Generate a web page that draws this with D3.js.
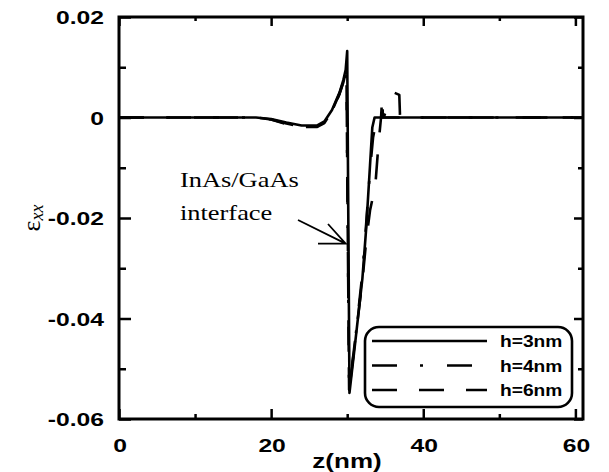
<!DOCTYPE html>
<html>
<head>
<meta charset="utf-8">
<script src="https://cdn.jsdelivr.net/npm/d3@7"></script>
<style>
  body { margin: 0; background: #fff; }
  svg { display: block; }
</style>
</head>
<body>
<svg width="609" height="472"></svg>
<script>
// strain curves eps_xx vs z (nm)
const z3 = [0, 10, 18, 20, 22, 24, 26, 27, 28, 29, 29.5, 29.8, 30.0, 30.3, 31, 32, 32.5, 33, 33.3, 33.6, 40, 61];
const e3 = [0, 0, 0, -0.0003, -0.001, -0.0016, -0.0016, -0.0008, 0.0015, 0.005, 0.0075, 0.0095, 0.0132, -0.0548, -0.0455, -0.032, -0.022, -0.0095, -0.002, 0, 0, 0];

const z4 = [0, 10, 18, 20, 22, 24, 26, 27, 28, 29, 29.5, 29.9, 30.25, 31, 32, 32.5, 33, 33.4, 33.9, 34.8, 35.0, 36.1, 36.85, 36.95, 40, 61];
const e4 = [0, 0, 0, -0.0004, -0.0012, -0.0018, -0.0018, -0.001, 0.0013, 0.0048, 0.0072, 0.0098, -0.0545, -0.045, -0.031, -0.021, -0.0105, -0.004, 0, 0, 0.0009, 0.005, 0.0045, 0, 0, 0];

const z6 = [0, 10, 18, 20, 22, 24, 26, 27, 28, 29, 29.5, 29.9, 30.25, 31, 32, 32.5, 33, 33.7, 34.1, 34.45, 34.6, 34.7, 40, 61];
const e6 = [0, 0, 0, -0.0004, -0.0013, -0.0019, -0.0019, -0.0011, 0.0012, 0.0047, 0.007, 0.0096, -0.0542, -0.0448, -0.0325, -0.0245, -0.0185, -0.0135, -0.0055, 0, 0.004, 0, 0, 0];

const legendLabels = ["h=3nm", "h=4nm", "h=6nm"];
const dashes = [null, "25,23,3,24", "25,22"];

const xMajor = [0, 20, 40, 60];
const xMinor = [10, 30, 50];
const yMajor = [0.02, 0, -0.02, -0.04, -0.06];
const yMinor = [0.01, -0.01, -0.03, -0.05];

const svg = d3.select("svg");
const plotL = 119, plotR = 583, plotT = 17, plotB = 419;

const x = d3.scaleLinear().domain([0, 61]).range([plotL, plotR]);
const y = d3.scaleLinear().domain([-0.06, 0.02]).range([plotB, plotT]);

const series = [
  { z: z3, e: e3 },
  { z: z4, e: e4 },
  { z: z6, e: e6 }
];

const line = d3.line()
  .x(d => x(d[0]))
  .y(d => y(d[1]));

// curves
series.forEach(function(s, i) {
  svg.append("path")
    .datum(s.z.map((v, k) => [v, s.e[k]]))
    .attr("d", line)
    .attr("fill", "none")
    .attr("stroke", "#000")
    .attr("stroke-width", 2.6)
    .attr("stroke-linejoin", "round")
    .attr("stroke-dasharray", dashes[i]);
});

// axes, ticks pointing inward
function ticks(axis, vals, size, tf) {
  svg.append("g")
    .attr("transform", tf)
    .call(axis.tickValues(vals).tickSize(size).tickFormat(""))
    .call(g => g.select(".domain").remove())
    .call(g => g.selectAll("line").attr("stroke", "#000").attr("stroke-width", 2.5));
}
ticks(d3.axisBottom(x), xMajor, -10, `translate(0,${plotB})`);
ticks(d3.axisBottom(x), xMinor, -5, `translate(0,${plotB})`);
ticks(d3.axisTop(x), xMajor, -9, `translate(0,${plotT})`);
ticks(d3.axisTop(x), xMinor, -4, `translate(0,${plotT})`);
ticks(d3.axisLeft(y), yMajor, -12, `translate(${plotL},0)`);
ticks(d3.axisLeft(y), yMinor, -7, `translate(${plotL},0)`);
ticks(d3.axisRight(y), yMajor, -9, `translate(${plotR},0)`);
ticks(d3.axisRight(y), yMinor, -5, `translate(${plotR},0)`);

svg.append("rect")
  .attr("x", plotL).attr("y", plotT)
  .attr("width", plotR - plotL).attr("height", plotB - plotT)
  .attr("fill", "none").attr("stroke", "#000").attr("stroke-width", 3);

// text drawn a bit wide, like the original
const sans = "'Liberation Sans', Arial, sans-serif";
const serif = "'Liberation Serif', 'Times New Roman', serif";
function label(txt, px, py, anchor, size, sx, font, bold) {
  return svg.append("text")
    .attr("transform", `translate(${px},${py}) scale(${sx},1)`)
    .attr("text-anchor", anchor)
    .style("font-family", font)
    .style("font-weight", bold ? "bold" : "normal")
    .style("font-size", size + "px")
    .text(txt);
}

xMajor.forEach(d => label(d, x(d) + 1, 452, "middle", 19, 1.3, sans, true));
yMajor.forEach(d => label(d === 0 ? "0" : d.toFixed(2), 104, y(d) + 7, "end", 19, 1.3, sans, true));

label("z(nm)", 347, 468, "middle", 20, 1.3, sans, true);

const yt = svg.append("text")
  .attr("transform", "translate(40,218) rotate(-90)")
  .attr("text-anchor", "middle")
  .style("font-family", serif);
yt.append("tspan").style("font-size", "26px").text("ε");
yt.append("tspan").attr("dy", 3).style("font-size", "18px").style("font-style", "italic").text("xx");

// annotation
label("InAs/GaAs", 180, 187, "start", 22, 1.2, serif, false);
label("interface", 180, 220, "start", 22, 1.2, serif, false);

const tip = [x(29.8), y(-0.0251)];
svg.append("path")
  .attr("d", `M298,220 L${tip[0]},${tip[1]} M318,${tip[1]} L${tip[0]},${tip[1]} L328,224`)
  .attr("fill", "none").attr("stroke", "#000").attr("stroke-width", 1.8);

// legend
svg.append("rect")
  .attr("x", 365).attr("y", 327).attr("width", 207).attr("height", 80)
  .attr("rx", 14).attr("ry", 14)
  .attr("fill", "#fff").attr("stroke", "#000").attr("stroke-width", 2.6);

legendLabels.forEach(function(lab, i) {
  const ly = 341 + i * 24.5;
  svg.append("line")
    .attr("x1", 372).attr("x2", 487).attr("y1", ly).attr("y2", ly)
    .attr("stroke", "#000").attr("stroke-width", 2.6)
    .attr("stroke-dasharray", dashes[i]);
  label(lab, 500, ly + 6, "start", 16, 1.2, sans, true);
});
</script>
</body>
</html>
